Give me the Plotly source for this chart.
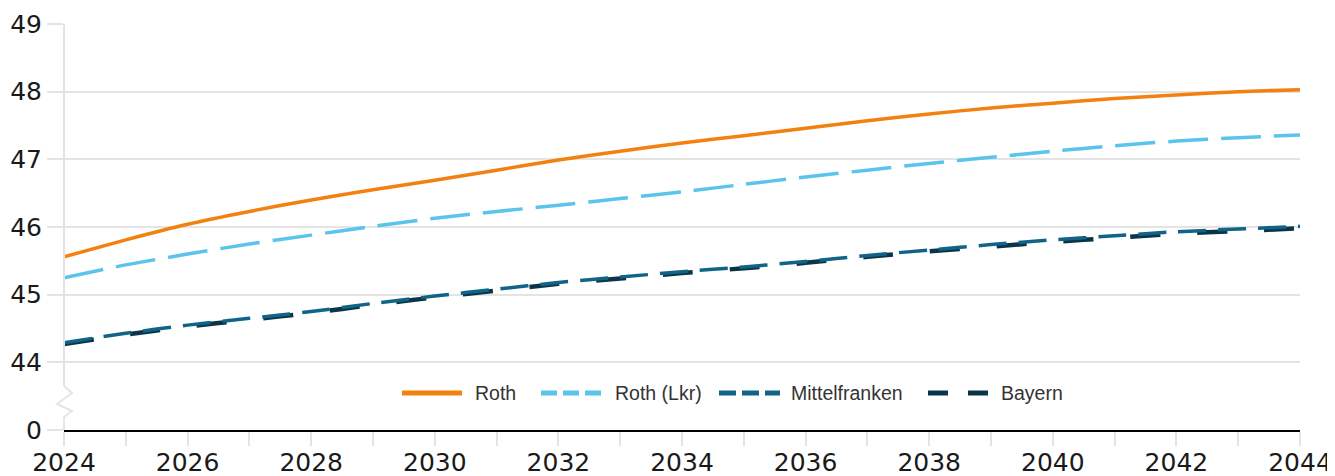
import plotly.graph_objects as go

years = list(range(2024, 2045))
roth = [45.56, 45.81, 46.04, 46.23, 46.40, 46.55, 46.69, 46.84, 46.99, 47.12, 47.24,
        47.35, 47.46, 47.57, 47.67, 47.76, 47.83, 47.90, 47.95, 48.00, 48.03]
roth_lkr = [45.25, 45.44, 45.60, 45.75, 45.88, 46.01, 46.13, 46.23, 46.32, 46.42, 46.52,
            46.63, 46.74, 46.84, 46.94, 47.03, 47.12, 47.20, 47.27, 47.32, 47.36]
mittelfranken = [44.29, 44.43, 44.55, 44.65, 44.75, 44.87, 44.98, 45.08, 45.18, 45.26, 45.34,
                 45.41, 45.49, 45.58, 45.66, 45.74, 45.81, 45.87, 45.93, 45.97, 46.01]
bayern = [44.27, 44.41, 44.53, 44.63, 44.73, 44.85, 44.96, 45.06, 45.16, 45.24, 45.32,
          45.39, 45.47, 45.56, 45.64, 45.71, 45.78, 45.84, 45.90, 45.94, 45.98]

series_names = ["Roth", "Roth (Lkr)", "Mittelfranken", "Bayern"]
colors = ["#f28110", "#5ac4ec", "#0f6487", "#0a3447"]

# broken axis: the "0" label sits one unit below 44
y_tickvals = [43, 44, 45, 46, 47, 48, 49]
y_ticktext = ["0", "44", "45", "46", "47", "48", "49"]
x_tickvals = list(range(2024, 2045, 2))

# page body has an 8px margin: offset everything by it
OFF = 8
L, R, T, B = 64 - OFF, 35, 24 - OFF, 46
W, H = 1335 - OFF, 476 - OFF
PW, PH = W - L - R, H - T - B


def px(x):
    # x in window pixels
    return (x - OFF - L) / PW


def py(y):
    # y in window pixels
    return (T + OFF + PH - y) / PH


fig = go.Figure()
fig.add_trace(go.Scatter(x=years, y=roth, mode="lines", name=series_names[0],
                         line=dict(color=colors[0], width=3.5, shape="spline", smoothing=0.6)))
fig.add_trace(go.Scatter(x=years, y=roth_lkr, mode="lines", name=series_names[1],
                         line=dict(color=colors[1], width=3.5, dash="40px,13px", shape="spline", smoothing=0.6)))
fig.add_trace(go.Scatter(x=years, y=bayern, mode="lines", name=series_names[3],
                         line=dict(color=colors[3], width=4.5, dash="30px,37px", shape="spline", smoothing=0.6)))
fig.add_trace(go.Scatter(x=years, y=mittelfranken, mode="lines", name=series_names[2],
                         line=dict(color=colors[2], width=3.5, dash="28px,12px", shape="spline", smoothing=0.6)))

shapes = []
grey = "#e4e4e4"
# y axis line with break
shapes.append(dict(type="line", xref="paper", yref="paper", x0=0, x1=0, y0=1, y1=py(386),
                   line=dict(color=grey, width=2), layer="above"))
shapes.append(dict(type="line", xref="paper", yref="paper", x0=0, x1=0, y0=py(417), y1=0,
                   line=dict(color=grey, width=2), layer="above"))
zig = [(64, 386), (72, 393), (57, 404), (72, 411), (64, 417)]
path = "M " + " L ".join(f"{px(a):.5f},{py(b):.5f}" for a, b in zig)
shapes.append(dict(type="path", xref="paper", yref="paper", path=path,
                   line=dict(color=grey, width=2), layer="above"))

# legend drawn manually
leg_y = py(393)
leg_items = [
    (series_names[0], colors[0], 402, 462, "solid", 473),
    (series_names[1], colors[1], 541, 601, "16px,6px", 613),
    (series_names[2], colors[2], 719, 780, "17px,6px", 789),
    (series_names[3], colors[3], 928, 988, "20px,20px", 999),
]
annotations = []
for name, col, x0, x1, dash, tx in leg_items:
    shapes.append(dict(type="line", xref="paper", yref="paper", x0=px(x0), x1=px(x1),
                       y0=leg_y, y1=leg_y, line=dict(color=col, width=5, dash=dash)))
    annotations.append(dict(xref="paper", yref="paper", x=px(tx), y=leg_y, text=name,
                            showarrow=False, xanchor="left", yanchor="middle",
                            font=dict(family="Liberation Sans, Arial", size=19.5, color="#333333")))

fig.update_layout(
    width=W, height=H,
    margin=dict(l=L, r=R, t=T, b=B, pad=0),
    paper_bgcolor="white", plot_bgcolor="white",
    showlegend=False,
    shapes=shapes, annotations=annotations,
    font=dict(family="DejaVu Sans", color="#1a1a1a"),
)
fig.update_xaxes(
    range=[2024, 2044], tickvals=x_tickvals, ticktext=[str(v) for v in x_tickvals],
    showgrid=False, zeroline=False, automargin=False,
    showline=True, linecolor="black", linewidth=2,
    ticks="outside", ticklen=14, tickwidth=2, tickcolor=grey,
    minor=dict(dtick=1, ticks="outside", ticklen=14, tickwidth=2, tickcolor=grey, showgrid=False),
    tickfont=dict(family="DejaVu Sans", size=25, color="#1a1a1a"),
    ticklabelstandoff=-5,
)
fig.update_yaxes(
    range=[43, 49], tickvals=y_tickvals, ticktext=y_ticktext,
    showgrid=True, gridcolor=grey, gridwidth=2, zeroline=False, showline=False, automargin=False,
    ticks="outside", ticklen=16, tickwidth=2, tickcolor=grey,
    tickfont=dict(family="DejaVu Sans", size=25, color="#1a1a1a"),
    ticklabelstandoff=0,
)

fig.write_html("out.html")
